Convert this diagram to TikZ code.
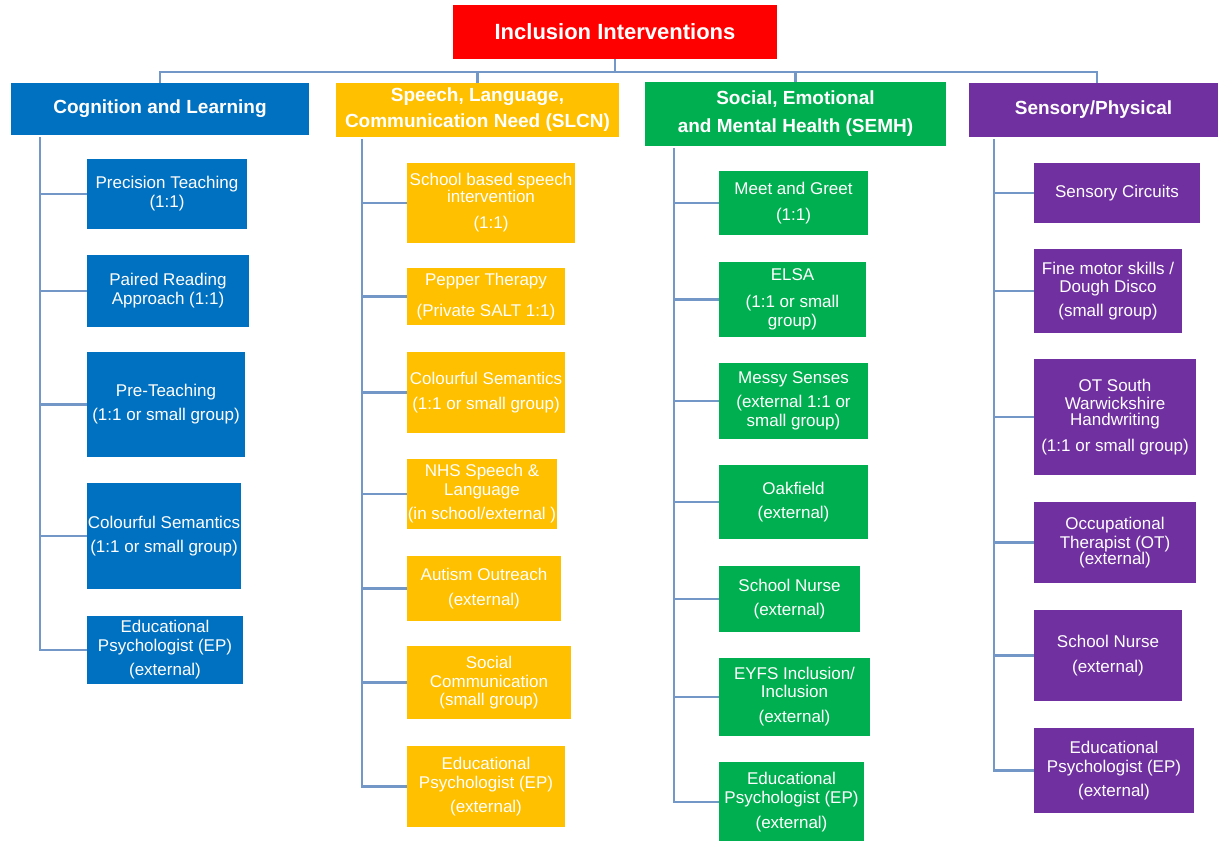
\documentclass[tikz,border=0pt]{standalone}
\usepackage{fontspec}
\setmainfont{Liberation Sans}
\definecolor{cblue}{HTML}{0070C0}
\definecolor{corange}{HTML}{FFC000}
\definecolor{cgreen}{HTML}{00B050}
\definecolor{cpurple}{HTML}{7030A0}
\definecolor{cred}{HTML}{FF0000}
\definecolor{cline}{RGB}{115,152,200}
\tikzset{
  base/.style={rectangle, inner sep=0pt, align=center, text=white,
    font=\fontsize{17}{19}\selectfont},
  hdr/.style={base, font=\fontsize{19}{26}\selectfont\bfseries},
  rootbox/.style={base, fill=cred, font=\fontsize{22}{26}\selectfont\bfseries},
  bluebox/.style={base, fill=cblue},
  orangebox/.style={base, fill=corange},
  greenbox/.style={base, fill=cgreen},
  purplebox/.style={base, fill=cpurple},
  conn/.style={draw=cline, line width=2.2pt},
}
\begin{document}
\begin{tikzpicture}[x=1pt,y=-1pt]
\useasboundingbox (0,0) rectangle (1219,841);
% root
\node[rootbox, minimum width=324, minimum height=54] (root) at (615,32) {Inclusion Interventions};
% headers
\node[hdr, fill=cblue, minimum width=298, minimum height=52] (cog) at (160,109) {Cognition and Learning};
\node[hdr, fill=corange, minimum width=283, minimum height=54] (slcn) at (477.5,110) {Speech, Language,\\Communication Need (SLCN)};
\node[hdr, fill=cgreen, minimum width=301, minimum height=64] (semh) at (795.5,114) {Social, Emotional\\[2pt]and Mental Health (SEMH)};
\node[hdr, fill=cpurple, minimum width=249, minimum height=54] (sen) at (1093.5,110) {Sensory/Physical};
% Cognition children
\node[bluebox, minimum width=160, minimum height=70] (c1) at (167,194) {Precision Teaching\\(1:1)};
\node[bluebox, minimum width=162, minimum height=72] (c2) at (168,291) {Paired Reading\\Approach (1:1)};
\node[bluebox, minimum width=158, minimum height=105] (c3) at (166,404.5) {Pre-Teaching\\[5pt](1:1 or small group)};
\node[bluebox, minimum width=154, minimum height=106] (c4) at (164,536) {Colourful Semantics\\[5pt](1:1 or small group)};
\node[bluebox, minimum width=156, minimum height=68] (c5) at (165,650) {Educational\\Psychologist (EP)\\[5pt](external)};
% SLCN children
\node[orangebox, minimum width=168, minimum height=80] (s1) at (491,203) {School based speech\\[-2pt]intervention\\[7pt](1:1)};
\node[orangebox, minimum width=158, minimum height=57] (s2) at (486,296.5) {Pepper Therapy\\[12pt](Private SALT 1:1)};
\node[orangebox, minimum width=158, minimum height=81] (s3) at (486,392.5) {Colourful Semantics\\[6pt](1:1 or small group)};
\node[orangebox, minimum width=150, minimum height=70] (s4) at (482,494) {NHS Speech \&\\Language\\[5pt](in school/external )};
\node[orangebox, minimum width=154, minimum height=65] (s5) at (484,588.5) {Autism Outreach\\[6pt](external)};
\node[orangebox, minimum width=164, minimum height=73] (s6) at (489,682.5) {Social\\Communication\\[-1pt](small group)};
\node[orangebox, minimum width=158, minimum height=81] (s7) at (486,786.5) {Educational\\Psychologist (EP)\\[5pt](external)};
% SEMH children
\node[greenbox, minimum width=149, minimum height=64] (m1) at (793.5,203) {Meet and Greet\\[7pt](1:1)};
\node[greenbox, minimum width=147, minimum height=75] (m2) at (792.5,299.5) {ELSA\\[8pt](1:1 or small\\group)};
\node[greenbox, minimum width=149, minimum height=76] (m3) at (793.5,401) {Messy Senses\\[5pt](external 1:1 or\\small group)};
\node[greenbox, minimum width=149, minimum height=74] (m4) at (793.5,502) {Oakfield\\[5pt](external)};
\node[greenbox, minimum width=141, minimum height=66] (m5) at (789.5,599) {School Nurse\\[5pt](external)};
\node[greenbox, minimum width=151, minimum height=78] (m6) at (794.5,697) {EYFS Inclusion/\\[-1pt]Inclusion\\[6pt](external)};
\node[greenbox, minimum width=145, minimum height=80] (m7) at (791.5,802) {Educational\\Psychologist (EP)\\[6pt](external)};
% Sensory children
\node[purplebox, minimum width=166, minimum height=60] (p1) at (1117,193) {Sensory Circuits};
\node[purplebox, minimum width=148, minimum height=84] (p2) at (1108,291) {Fine motor skills /\\[-1pt]Dough Disco\\[5pt](small group)};
\node[purplebox, minimum width=162, minimum height=116] (p3) at (1115,417) {OT South\\[-1pt]Warwickshire\\[-3pt]Handwriting\\[7pt](1:1 or small group)};
\node[purplebox, minimum width=162, minimum height=81] (p4) at (1115,542.5) {Occupational\\Therapist (OT)\\[-3pt](external)};
\node[purplebox, minimum width=148, minimum height=91] (p5) at (1108,655.5) {School Nurse\\[6pt](external)};
\node[purplebox, minimum width=160, minimum height=85] (p6) at (1114,770.5) {Educational\\Psychologist (EP)\\[5pt](external)};
% bus
\coordinate (bus) at (616,72);
\draw[conn] (root.south) -- (root.south |- bus);
\draw[conn] (cog.north) -- (cog.north |- bus) -- ([xshift=3.5pt]sen.north |- bus) -- ([xshift=3.5pt]sen.north);
\draw[conn] (slcn.north) -- (slcn.north |- bus);
\draw[conn] (semh.north) -- (semh.north |- bus);
% trunks
\coordinate (cogT) at (40,137);
\coordinate (slcnT) at (362,139);
\coordinate (semhT) at (674,148);
\coordinate (senT) at (994,139);
\draw[conn] (cogT) |- (c5.west);
\draw[conn] (slcnT) |- (s7.west);
\draw[conn] (semhT) |- (m7.west);
\draw[conn] (senT) |- (p6.west);
\foreach \n in {c1,c2,c3,c4} \draw[conn] (\n.west) -- (\n.west -| cogT);
\foreach \n in {s1,s2,s3,s4,s5,s6} \draw[conn] (\n.west) -- (\n.west -| slcnT);
\foreach \n in {m1,m2,m3,m4,m5,m6} \draw[conn] (\n.west) -- (\n.west -| semhT);
\foreach \n in {p1,p2,p3,p4,p5} \draw[conn] (\n.west) -- (\n.west -| senT);
\end{tikzpicture}
\end{document}
